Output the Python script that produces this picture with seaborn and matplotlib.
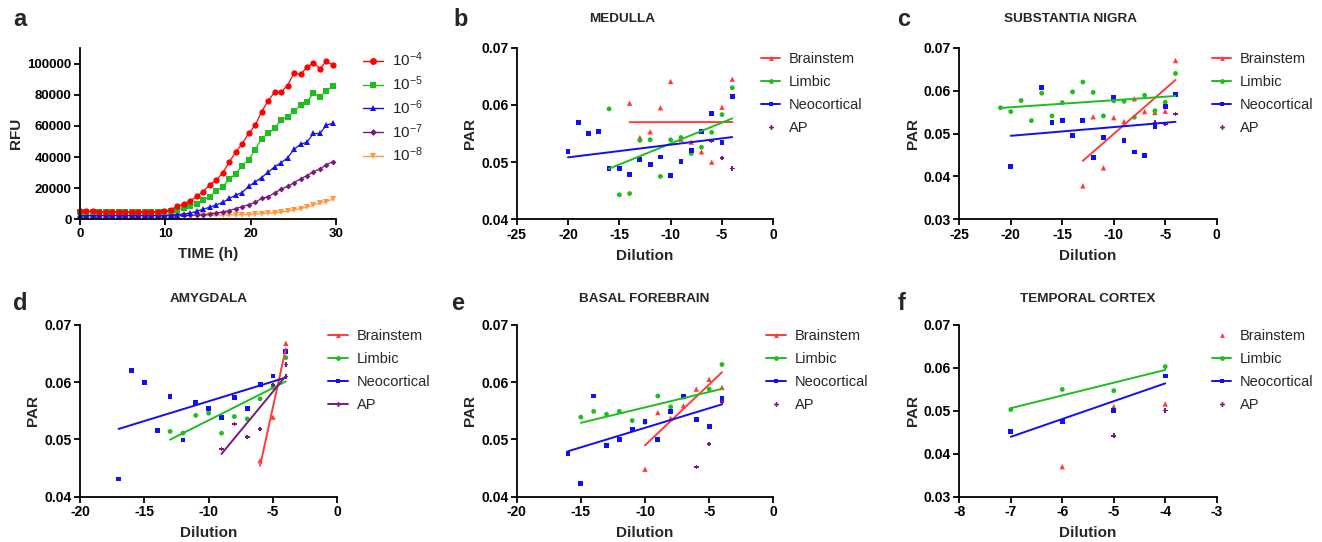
import matplotlib
matplotlib.use('Agg')
import matplotlib.pyplot as plt
from matplotlib.lines import Line2D
import seaborn as sns

# ---- panel a: RT-QuIC kinetics ----
time_h = [0, 0.76, 1.52, 2.28, 3.04, 3.8, 4.56, 5.32, 6.08, 6.84,
          7.6, 8.36, 9.12, 9.88, 10.64, 11.4, 12.16, 12.92, 13.68, 14.44,
          15.2, 15.96, 16.72, 17.48, 18.24, 19.0, 19.76, 20.52, 21.28, 22.04,
          22.8, 23.56, 24.32, 25.08, 25.84, 26.6, 27.36, 28.12, 28.88, 29.64]
rfu_e4 = [5400, 5200, 5100, 5000, 5000, 4900, 4900, 4900, 4900, 4900,
          4900, 5000, 5000, 5100, 6200, 8300, 10000, 11800, 14800, 17800,
          22200, 25000, 29800, 36600, 43300, 48400, 55200, 60300, 69000, 76100,
          81600, 81600, 85900, 94000, 93000, 97700, 100600, 96700, 101600, 98900]
rfu_e5 = [5000, 4800, 4700, 4600, 4600, 4600, 4600, 4600, 4600, 4600,
          4600, 4600, 4700, 4800, 5200, 5900, 7200, 8600, 10100, 12300,
          14600, 18100, 20900, 25700, 29200, 34500, 38200, 44700, 51800, 55100,
          58500, 63500, 65800, 69300, 73200, 75400, 81000, 78800, 82500, 85300]
rfu_e6 = [2700, 2600, 2600, 2500, 2500, 2500, 2500, 2500, 2500, 2500,
          2500, 2500, 2600, 2600, 2800, 3000, 3400, 3900, 5200, 6500,
          7800, 9300, 10800, 13400, 15500, 17200, 21100, 24000, 26800, 30200,
          33700, 36300, 39500, 44900, 48100, 49600, 55100, 55100, 60500, 61800]
rfu_e7 = [2400, 2400, 2400, 2400, 2400, 2400, 2400, 2400, 2400, 2400,
          2400, 2400, 2400, 2400, 2400, 2500, 2500, 2600, 2800, 3000,
          3400, 3900, 4700, 5600, 6900, 8200, 9300, 10800, 13400, 14600,
          16800, 19400, 21100, 23500, 25900, 28100, 30600, 32400, 35000, 37100]
rfu_e8 = [2300, 2300, 2300, 2300, 2300, 2300, 2300, 2300, 2300, 2300,
          2300, 2300, 2300, 2300, 2300, 2300, 2300, 2500, 2500, 2500,
          2600, 2600, 2800, 2800, 2800, 3000, 3000, 3200, 3700, 3900,
          4300, 4700, 5200, 6000, 6900, 7800, 9100, 10400, 11400, 13000]

# ---- panel b: medulla ----
med_bs_x = [-14, -13, -12, -11, -10, -9, -8, -7, -6, -5, -4]
med_bs_y = [0.0603, 0.0543, 0.0553, 0.0595, 0.0641, 0.0540, 0.0535, 0.0518, 0.0500, 0.0596, 0.0645]
med_li_x = [-16, -15, -14, -13, -12, -11, -10, -9, -8, -7, -6, -5, -4]
med_li_y = [0.0593, 0.0443, 0.0445, 0.0538, 0.0539, 0.0475, 0.0539, 0.0543, 0.0515, 0.0526, 0.0552, 0.0583, 0.0630]
med_ne_x = [-20, -19, -18, -17, -16, -15, -14, -13, -12, -11, -10, -9, -8, -7, -6, -5, -4]
med_ne_y = [0.0518, 0.0569, 0.0550, 0.0554, 0.0489, 0.0489, 0.0478, 0.0504, 0.0496, 0.0509,
            0.0477, 0.0501, 0.0520, 0.0554, 0.0585, 0.0534, 0.0615]
med_ap_x = [-6, -5, -4]
med_ap_y = [0.0537, 0.0507, 0.0489]

# ---- panel c: substantia nigra ----
sn_bs_x = [-13, -12, -11, -10, -9, -8, -7, -6, -5, -4]
sn_bs_y = [0.0378, 0.0539, 0.0420, 0.0537, 0.0528, 0.0581, 0.0551, 0.0549, 0.0552, 0.0670]
sn_li_x = [-21, -20, -19, -18, -17, -16, -15, -14, -13, -12, -11, -10, -9, -8, -7, -6, -5, -4]
sn_li_y = [0.0560, 0.0551, 0.0577, 0.0530, 0.0594, 0.0541, 0.0572, 0.0597, 0.0620, 0.0596,
           0.0541, 0.0576, 0.0575, 0.0538, 0.0589, 0.0553, 0.0573, 0.0640]
sn_ne_x = [-20, -17, -16, -15, -14, -13, -12, -11, -10, -9, -8, -7, -6, -5, -4]
sn_ne_y = [0.0423, 0.0607, 0.0525, 0.0531, 0.0496, 0.0531, 0.0445, 0.0491, 0.0583, 0.0484,
           0.0457, 0.0448, 0.0516, 0.0563, 0.0590]
sn_ap_x = [-6, -5, -4]
sn_ap_y = [0.0526, 0.0522, 0.0545]

# ---- panel d: amygdala ----
amy_bs_x = [-6, -5, -4]
amy_bs_y = [0.0463, 0.0539, 0.0668]
amy_li_x = [-13, -12, -11, -10, -9, -8, -7, -6, -5, -4]
amy_li_y = [0.0514, 0.0511, 0.0542, 0.0546, 0.0511, 0.0540, 0.0536, 0.0571, 0.0591, 0.0643]
amy_ne_x = [-17, -16, -15, -14, -13, -12, -11, -10, -9, -8, -7, -6, -5, -4]
amy_ne_y = [0.0431, 0.0620, 0.0600, 0.0515, 0.0575, 0.0499, 0.0564, 0.0554, 0.0539, 0.0574,
            0.0554, 0.0596, 0.0611, 0.0654]
amy_ap_x = [-9, -8, -7, -6, -5, -4, -4]
amy_ap_y = [0.0483, 0.0527, 0.0504, 0.0518, 0.0595, 0.0631, 0.0610]

# ---- panel e: basal forebrain ----
bf_bs_x = [-10, -9, -8, -7, -6, -5, -4]
bf_bs_y = [0.0448, 0.0547, 0.0537, 0.0559, 0.0588, 0.0605, 0.0591]
bf_li_x = [-15, -14, -13, -12, -11, -10, -9, -8, -7, -6, -5, -4]
bf_li_y = [0.0539, 0.0549, 0.0544, 0.0549, 0.0533, 0.0530, 0.0576, 0.0557, 0.0574, 0.0535, 0.0588, 0.0631]
bf_ne_x = [-16, -15, -14, -13, -12, -11, -10, -9, -8, -7, -6, -5, -4]
bf_ne_y = [0.0475, 0.0423, 0.0576, 0.0490, 0.0500, 0.0517, 0.0532, 0.0500, 0.0549, 0.0575,
           0.0535, 0.0522, 0.0571]
bf_ap_x = [-6, -5, -4]
bf_ap_y = [0.0452, 0.0492, 0.0565]

# ---- panel f: temporal cortex ----
tc_bs_x = [-6, -5, -4]
tc_bs_y = [0.0370, 0.0510, 0.0516]
tc_li_x = [-7, -6, -5, -4]
tc_li_y = [0.0503, 0.0550, 0.0547, 0.0603]
tc_ne_x = [-7, -6, -5, -4]
tc_ne_y = [0.0451, 0.0475, 0.0500, 0.0581]
tc_ap_x = [-5, -4]
tc_ap_y = [0.0442, 0.0501]

group_names = ['Brainstem', 'Limbic', 'Neocortical', 'AP']
group_colors = ['#FF3B3B', '#1EBE1E', '#1010F0', '#7A1A7A']
group_markers = ['^', 'o', 's', 'P']

W, H = 1322, 542
sns.set_style('ticks')
plt.rcParams['font.family'] = ['Liberation Sans', 'DejaVu Sans']
plt.rcParams['font.weight'] = 'bold'
plt.rcParams['axes.labelweight'] = 'bold'
plt.rcParams['mathtext.default'] = 'regular'

fig = plt.figure(figsize=(W / 100, H / 100), dpi=100)


def make_ax(x0, x1, ytop, ybot):
    return fig.add_axes([x0 / W, 1 - ybot / H, (x1 - x0) / W, (ybot - ytop) / H])


def style_ax(ax, size):
    sns.despine(ax=ax)
    for s in ['left', 'bottom']:
        ax.spines[s].set_linewidth(1.3)
        ax.spines[s].set_color('black')
    ax.tick_params(direction='out', length=4, width=1.3, labelsize=size, pad=2, colors='black')


def px_text(x, y, s, **kw):
    fig.text(x / W, 1 - y / H, s, ha='center', va='center', **kw)


# panel a
ax = make_ax(80, 336, 48, 219.3)
a_series = [(rfu_e8, '#FF9A3C', 'v', '10$^{-8}$'),
            (rfu_e7, '#7A1A7A', 'D', '10$^{-7}$'),
            (rfu_e6, '#1010F0', '^', '10$^{-6}$'),
            (rfu_e5, '#1EBE1E', 's', '10$^{-5}$'),
            (rfu_e4, '#FF0000', 'o', '10$^{-4}$')]
for vals, c, m, lab in a_series:
    ms = 3 if m == 'D' else 4.5
    sns.lineplot(x=time_h, y=vals, color=c, marker=m, markersize=ms, markeredgewidth=0,
                 lw=0.9, clip_on=False, ax=ax)
ax.set_xlim(0, 30)
ax.set_ylim(0, 110000)
ax.set_xticks([0, 10, 20, 30])
ax.set_yticks([0, 20000, 40000, 60000, 80000, 100000])
ax.set_xlabel('TIME (h)', fontsize=11, labelpad=5)
ax.set_ylabel('RFU', fontsize=11, labelpad=3)
style_ax(ax, 9.5)
handles = [Line2D([0], [0], color=c, marker=m, markersize=(3.5 if m == 'D' else 5),
                  markeredgewidth=0, lw=1) for vals, c, m, lab in a_series[::-1]]
labels = [lab for vals, c, m, lab in a_series[::-1]]
ax.legend(handles, labels, loc='upper left', bbox_to_anchor=(1.105, 0.985), frameon=False,
          borderpad=0, borderaxespad=0, handlelength=1.3, handletextpad=0.6, labelspacing=0.34,
          prop={'weight': 'normal', 'size': 11})


def dilution_panel(box, data, lines, xlim, xticks, ylim, yticks, leg_x):
    ax = make_ax(*box)
    for i, (xs, ys) in enumerate(data):
        c, m = group_colors[i], group_markers[i]
        if lines[i]:
            sns.regplot(x=xs, y=ys, scatter=False, ci=None, color=c,
                        line_kws={'lw': 1.4}, ax=ax)
        sz = 15 if m == '^' else (11 if m == 'P' else 12)
        sns.scatterplot(x=xs, y=ys, color=c, marker=m, s=sz, edgecolor='none',
                        linewidth=0, ax=ax)
    ax.set_xlim(*xlim)
    ax.set_ylim(*ylim)
    ax.set_xticks(xticks)
    ax.set_yticks(yticks)
    ax.set_xticklabels([str(t) for t in xticks])
    ax.set_yticklabels(['%.2f' % t for t in yticks])
    ax.set_xlabel('Dilution', fontsize=11, labelpad=5)
    ax.set_ylabel('PAR', fontsize=11, labelpad=3)
    style_ax(ax, 10)
    handles = []
    for i in range(4):
        handles.append(Line2D([0], [0], color=group_colors[i], marker=group_markers[i],
                              markersize=3.5, markeredgewidth=0,
                              lw=(1.4 if lines[i] else 0)))
    ax.legend(handles, group_names, loc='upper left', bbox_to_anchor=(leg_x, 0.975),
              frameon=False, borderpad=0, borderaxespad=0, handlelength=1.35,
              handletextpad=0.6, labelspacing=0.62, prop={'weight': 'normal', 'size': 10.5})
    return ax


dilution_panel((516.7, 773.3, 47.7, 219.3),
               [(med_bs_x, med_bs_y), (med_li_x, med_li_y), (med_ne_x, med_ne_y), (med_ap_x, med_ap_y)],
               [True, True, True, False], (-25, 0), [-25, -20, -15, -10, -5, 0],
               (0.04, 0.07), [0.04, 0.05, 0.06, 0.07], 0.951)
dilution_panel((959.3, 1216.7, 47.7, 219.3),
               [(sn_bs_x, sn_bs_y), (sn_li_x, sn_li_y), (sn_ne_x, sn_ne_y), (sn_ap_x, sn_ap_y)],
               [True, True, True, False], (-25, 0), [-25, -20, -15, -10, -5, 0],
               (0.03, 0.07), [0.03, 0.04, 0.05, 0.06, 0.07], 0.981)
dilution_panel((80, 337.3, 325, 496.7),
               [(amy_bs_x, amy_bs_y), (amy_li_x, amy_li_y), (amy_ne_x, amy_ne_y), (amy_ap_x, amy_ap_y)],
               [True, True, True, True], (-20, 0), [-20, -15, -10, -5, 0],
               (0.04, 0.07), [0.04, 0.05, 0.06, 0.07], 0.964)
dilution_panel((516.7, 773.3, 325, 496.7),
               [(bf_bs_x, bf_bs_y), (bf_li_x, bf_li_y), (bf_ne_x, bf_ne_y), (bf_ap_x, bf_ap_y)],
               [True, True, True, False], (-20, 0), [-20, -15, -10, -5, 0],
               (0.04, 0.07), [0.04, 0.05, 0.06, 0.07], 0.972)
dilution_panel((959.3, 1216.7, 325, 496.7),
               [(tc_bs_x, tc_bs_y), (tc_li_x, tc_li_y), (tc_ne_x, tc_ne_y), (tc_ap_x, tc_ap_y)],
               [False, True, True, False], (-8, -3), [-8, -7, -6, -5, -4, -3],
               (0.03, 0.07), [0.03, 0.04, 0.05, 0.06, 0.07], 0.981)

# titles and panel letters
px_text(622, 19, 'MEDULLA', fontsize=9.7)
px_text(1070, 19, 'SUBSTANTIA NIGRA', fontsize=9.7)
px_text(209, 299, 'AMYGDALA', fontsize=9.7)
px_text(644, 299, 'BASAL FOREBRAIN', fontsize=9.7)
px_text(1088, 299, 'TEMPORAL CORTEX', fontsize=9.7)
for lx, ly, s in [(20, 19, 'a'), (461, 19, 'b'), (904, 19, 'c'),
                  (20, 304, 'd'), (458, 304, 'e'), (902, 304, 'f')]:
    px_text(lx, ly, s, fontsize=17)

fig.savefig('out.png', dpi=100)
